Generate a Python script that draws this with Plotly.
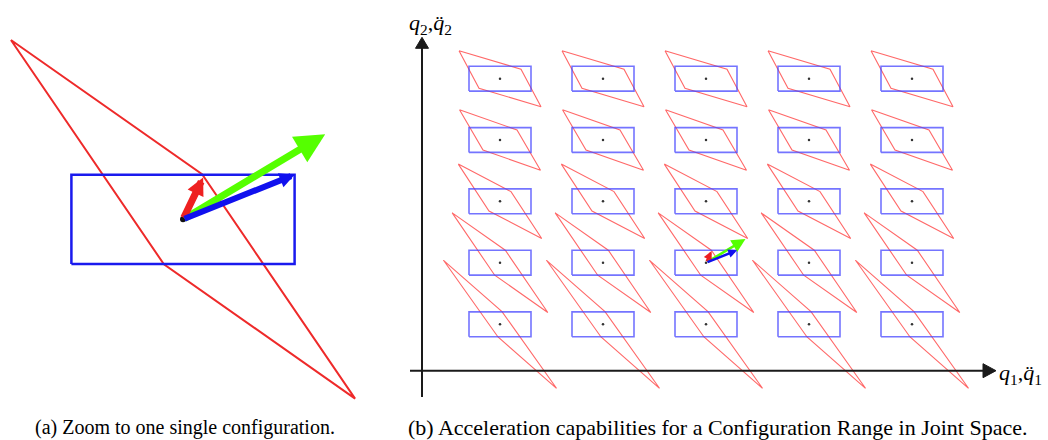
import plotly.graph_objects as go

W, H = 1048, 440

# configuration grid (joint-space units)
q1_values = [7.8, 18.1, 28.4, 38.7, 49.0]
q2_values = [4.64, 10.8, 16.94, 23.07, 29.2]

# acceleration polytope half-vertices (a and b, polygon = a, b, -a, -b), one per q2 row (bottom -> top)
poly_a_x = [-5.65, -4.78, -4.17, -4.05, -4.10]
poly_a_y = [6.40, 4.98, 3.72, 3.03, 2.80]
poly_b_x = [0.20, 0.53, 1.10, 1.70, 2.10]
poly_b_y = [1.27, 1.25, 0.97, 1.00, 0.95]

# required acceleration box (half extents)
box_half_w = 3.1
box_half_h = 1.24

# zoomed configuration and its acceleration vectors
zoom_q1_index = 2
zoom_q2_index = 1
vec_colors = ["#55ff00", "#ee2020", "#1010ee"]
vec_dx = [3.95, 0.56, 3.10]
vec_dy = [2.36, 1.16, 1.24]

captions = ["(a) Zoom to one single configuration.",
            "(b) Acceleration capabilities for a Configuration Range in Joint Space."]


def poly_xy(cx, cy, j):
    ax, ay, bx, by = poly_a_x[j], poly_a_y[j], poly_b_x[j], poly_b_y[j]
    xs = [cx + ax, cx + bx, cx - ax, cx - bx, cx + ax]
    ys = [cy + ay, cy + by, cy - ay, cy - by, cy + ay]
    return xs, ys


def box_xy(cx, cy):
    xs = [cx - box_half_w, cx + box_half_w, cx + box_half_w, cx - box_half_w, cx - box_half_w]
    ys = [cy - box_half_h, cy - box_half_h, cy + box_half_h, cy + box_half_h, cy - box_half_h]
    return xs, ys


fig = go.Figure()

# ---------- right panel: grid of configurations ----------
rx, ry, bx_, by_ = [], [], [], []
cxs, cys = [], []
for j, q2 in enumerate(q2_values):
    for q1 in q1_values:
        xs, ys = poly_xy(q1, q2, j)
        rx += xs + [None]
        ry += ys + [None]
        xs, ys = box_xy(q1, q2)
        bx_ += xs + [None]
        by_ += ys + [None]
        cxs.append(q1)
        cys.append(q2)

fig.add_trace(go.Scatter(x=rx, y=ry, mode="lines", xaxis="x2", yaxis="y2",
                         line=dict(color="rgba(255,40,40,0.7)", width=1.1), hoverinfo="skip"))
fig.add_trace(go.Scatter(x=bx_, y=by_, mode="lines", xaxis="x2", yaxis="y2",
                         line=dict(color="rgba(70,70,255,0.75)", width=1.6), hoverinfo="skip"))
fig.add_trace(go.Scatter(x=cxs, y=cys, mode="markers", xaxis="x2", yaxis="y2",
                         marker=dict(color="#333", size=2.5), hoverinfo="skip"))

# ---------- left panel: zoom on one configuration ----------
zc_x = q1_values[zoom_q1_index]
zc_y = q2_values[zoom_q2_index]
xs, ys = poly_xy(zc_x, zc_y, zoom_q2_index)
fig.add_trace(go.Scatter(x=xs, y=ys, mode="lines", xaxis="x", yaxis="y",
                         line=dict(color="#ee2a2a", width=2), hoverinfo="skip"))
xs, ys = box_xy(zc_x, zc_y)
fig.add_trace(go.Scatter(x=xs, y=ys, mode="lines", xaxis="x", yaxis="y",
                         line=dict(color="#1a1aee", width=2.5), hoverinfo="skip"))
fig.add_trace(go.Scatter(x=[zc_x], y=[zc_y], mode="markers", xaxis="x", yaxis="y",
                         marker=dict(color="#111", size=6), hoverinfo="skip"))

annotations = []
# arrows in left panel (large) and right panel (small)
left_w = [7, 7, 6]
left_s = [0.85, 0.5, 0.5]
right_w = [2.5, 2.5, 2.5]
right_s = [1.1, 0.7, 0.7]
for k in range(3):
    annotations.append(dict(x=zc_x + vec_dx[k], y=zc_y + vec_dy[k], ax=zc_x, ay=zc_y,
                            xref="x", yref="y", axref="x", ayref="y", text="",
                            showarrow=True, arrowhead=2, arrowwidth=left_w[k],
                            arrowsize=left_s[k], arrowcolor=vec_colors[k], standoff=0))
    annotations.append(dict(x=zc_x + vec_dx[k], y=zc_y + vec_dy[k], ax=zc_x, ay=zc_y,
                            xref="x2", yref="y2", axref="x2", ayref="y2", text="",
                            showarrow=True, arrowhead=2, arrowwidth=right_w[k],
                            arrowsize=right_s[k], arrowcolor=vec_colors[k], standoff=0))

serif = "'Liberation Serif', 'Times New Roman', serif"
annotations.append(dict(x=430 / W, y=1 - 24 / H, xref="paper", yref="paper", showarrow=False,
                        xanchor="center", yanchor="middle",
                        text="<i>q</i><sub>2</sub>,<i>q\u0308</i><sub>2</sub>",
                        font=dict(family=serif, size=22, color="black")))
annotations.append(dict(x=997 / W, y=1 - 374 / H, xref="paper", yref="paper", showarrow=False,
                        xanchor="left", yanchor="middle",
                        text="<i>q</i><sub>1</sub>,<i>q\u0308</i><sub>1</sub>",
                        font=dict(family=serif, size=22, color="black")))
annotations.append(dict(x=185 / W, y=1 - 427 / H, xref="paper", yref="paper", showarrow=False,
                        xanchor="center", yanchor="middle",
                        text=captions[0], font=dict(family=serif, size=20, color="black")))
annotations.append(dict(x=717 / W, y=1 - 427 / H, xref="paper", yref="paper", showarrow=False,
                        xanchor="center", yanchor="middle",
                        text=captions[1], font=dict(family=serif, size=22, color="black")))

# axis arrows of the right panel (decoration)
ax_col = "#1a1a1a"
shapes = [
    dict(type="line", xref="x2", yref="y2", x0=-1.2, y0=0, x1=56.3, y1=0,
         line=dict(color=ax_col, width=2)),
    dict(type="path", xref="x2", yref="y2", path="M 56.1,-0.7 L 57.4,0 L 56.1,0.7 Z",
         fillcolor=ax_col, line=dict(color=ax_col, width=1)),
    dict(type="line", xref="x2", yref="y2", x0=0, y0=-2.63, x1=0, y1=32.4,
         line=dict(color=ax_col, width=2)),
    dict(type="path", xref="x2", yref="y2", path="M -0.65,32.24 L 0,33.34 L 0.65,32.24 Z",
         fillcolor=ax_col, line=dict(color=ax_col, width=1)),
]

# pixel mapping of the panels
left_px_w, panel_px_h = 370, 400
left_scale = 36.0
left_cx_px, left_cy_px = 183, 219.3
right_x0_px, right_scale = 400, 10.0
origin_px_x, origin_px_y = 422, 370.7

fig.update_layout(
    width=W, height=H, margin=dict(l=0, r=0, t=0, b=0),
    paper_bgcolor="white", plot_bgcolor="white", showlegend=False,
    xaxis=dict(domain=[0, left_px_w / W], visible=False, fixedrange=True,
               range=[zc_x - left_cx_px / left_scale, zc_x + (left_px_w - left_cx_px) / left_scale]),
    yaxis=dict(domain=[1 - panel_px_h / H, 1], visible=False, fixedrange=True,
               range=[zc_y - (panel_px_h - left_cy_px) / left_scale, zc_y + left_cy_px / left_scale]),
    xaxis2=dict(domain=[right_x0_px / W, 1], visible=False, fixedrange=True,
                range=[(right_x0_px - origin_px_x) / right_scale, (W - origin_px_x) / right_scale]),
    yaxis2=dict(domain=[1 - panel_px_h / H, 1], visible=False, fixedrange=True,
                range=[(origin_px_y - panel_px_h) / right_scale, origin_px_y / right_scale]),
    annotations=annotations, shapes=shapes,
)

fig.write_html("out.html")
